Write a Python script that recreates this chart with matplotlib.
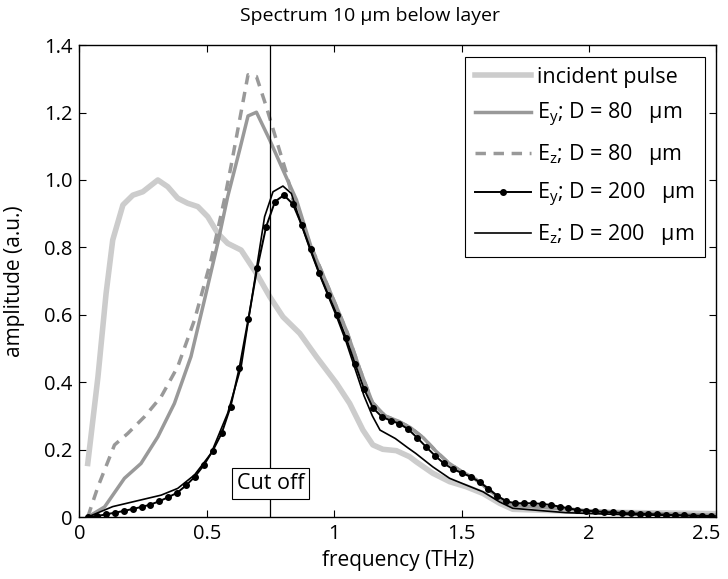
import numpy as np
import matplotlib
matplotlib.use('Agg')
import matplotlib.pyplot as plt
from matplotlib.transforms import ScaledTranslation

plt.rcParams['font.family'] = ['Open Sans', 'DejaVu Sans']
plt.rcParams['mathtext.fontset'] = 'custom'
plt.rcParams['mathtext.rm'] = 'Open Sans'

# incident pulse
f_inc = [0.033, 0.073, 0.105, 0.131, 0.171, 0.210, 0.249, 0.308, 0.347, 0.386,
         0.425, 0.465, 0.504, 0.543, 0.582, 0.635, 0.695, 0.747, 0.799, 0.865,
         0.930, 1.009, 1.061, 1.113, 1.152, 1.191, 1.244, 1.296, 1.322, 1.387,
         1.453, 1.518, 1.584, 1.649, 1.701, 1.9, 2.1, 2.3, 2.5]
a_inc = [0.159, 0.416, 0.664, 0.822, 0.926, 0.955, 0.965, 1.0, 0.980, 0.946,
         0.931, 0.921, 0.891, 0.842, 0.812, 0.792, 0.723, 0.654, 0.594, 0.545,
         0.476, 0.397, 0.337, 0.258, 0.214, 0.201, 0.197, 0.179, 0.164, 0.130,
         0.105, 0.090, 0.070, 0.041, 0.023, 0.018, 0.014, 0.012, 0.010]

# tail shared by the D = 80 um curves
f_tail = [0.91, 0.95, 1.0, 1.05, 1.1, 1.15, 1.2, 1.25, 1.3, 1.35, 1.4, 1.45,
          1.5, 1.55, 1.6, 1.65, 1.7, 1.8, 1.9, 2.0, 2.2, 2.5]
a_tail = [0.80, 0.73, 0.64, 0.55, 0.44, 0.34, 0.30, 0.285, 0.265, 0.235, 0.195,
          0.16, 0.135, 0.115, 0.085, 0.055, 0.035, 0.03, 0.025, 0.018, 0.012, 0.005]

# Ey, D = 80 um
f_ey80 = [0.033, 0.099, 0.177, 0.242, 0.308, 0.373, 0.438, 0.491, 0.543, 0.582,
          0.629, 0.662, 0.695, 0.747, 0.799, 0.852] + f_tail
a_ey80 = [0.0, 0.03, 0.115, 0.159, 0.238, 0.337, 0.476, 0.644, 0.812, 0.950,
          1.089, 1.190, 1.201, 1.119, 1.030, 0.941] + a_tail

# Ez, D = 80 um
f_ez80 = [0.033, 0.073, 0.138, 0.190, 0.256, 0.321, 0.386, 0.452, 0.517, 0.569,
          0.595, 0.662, 0.695, 0.734, 0.773, 0.813, 0.838, 0.878] + f_tail[1:]
a_ez80 = [0.0, 0.09, 0.214, 0.248, 0.298, 0.357, 0.446, 0.585, 0.763, 0.941,
          1.04, 1.312, 1.307, 1.217, 1.119, 1.02, 0.941, 0.861] + a_tail[1:]

# Ey, D = 200 um (with markers, one per frequency bin)
df = 0.0349
a_ey200 = [0.000, 0.003, 0.008, 0.013, 0.018, 0.024, 0.030, 0.037, 0.047, 0.059,
           0.072, 0.094, 0.120, 0.154, 0.197, 0.248, 0.327, 0.443, 0.587, 0.738,
           0.861, 0.936, 0.955, 0.929, 0.867, 0.794, 0.723, 0.659, 0.598, 0.531,
           0.455, 0.381, 0.324, 0.298, 0.286, 0.277, 0.260, 0.235, 0.208, 0.182,
           0.159, 0.142, 0.131, 0.120, 0.104, 0.084, 0.063, 0.047, 0.041, 0.041,
           0.041, 0.039, 0.036, 0.031, 0.026, 0.021, 0.019, 0.017, 0.015, 0.014,
           0.012, 0.011, 0.010, 0.009, 0.008, 0.007, 0.006, 0.005, 0.004, 0.004,
           0.003]
f_ey200 = df * np.arange(1, len(a_ey200) + 1)

# Ez, D = 200 um
f_ez200 = [0.033, 0.131, 0.321, 0.386, 0.452, 0.517, 0.582, 0.635, 0.727, 0.760,
           0.799, 0.832, 0.87, 0.907, 0.942, 0.977, 1.012, 1.047, 1.082, 1.117,
           1.15, 1.18, 1.24, 1.29, 1.32, 1.387, 1.453, 1.518, 1.584, 1.649,
           1.701, 1.78, 1.91, 2.1, 2.3, 2.5]
a_ez200 = [0.0, 0.031, 0.065, 0.085, 0.125, 0.189, 0.308, 0.446, 0.891, 0.965,
           0.982, 0.960, 0.87, 0.79, 0.72, 0.655, 0.59, 0.52, 0.44, 0.36,
           0.30, 0.258, 0.233, 0.205, 0.189, 0.149, 0.115, 0.095, 0.075, 0.045,
           0.026, 0.021, 0.013, 0.008, 0.005, 0.003]

cutoff = 0.75

fig = plt.figure(figsize=(7.28, 5.79), dpi=100)
ax = fig.add_axes([0.109, 0.107, 0.875, 0.815])

ax.plot(f_inc, a_inc, color='#cccccc', lw=4, label='incident pulse')
ax.plot(f_ey80, a_ey80, color='#999999', lw=2.5,
        label=r'E$_\mathrm{y}$; D = 80   μm')
ax.plot(f_ez80, a_ez80, color='#999999', lw=2.5, ls=(0, (3, 2.2)),
        label=r'E$_\mathrm{z}$; D = 80   μm')
ax.plot(f_ey200, a_ey200, color='black', lw=1.4, marker='o', ms=4,
        label=r'E$_\mathrm{y}$; D = 200   μm')
ax.plot(f_ez200, a_ez200, color='black', lw=1.2,
        label=r'E$_\mathrm{z}$; D = 200   μm')
ax.axvline(cutoff, color='black', lw=0.9)

ax.text(cutoff, 0.10, 'Cut off', ha='center', va='center', fontsize=15.5,
        bbox=dict(boxstyle='square,pad=0.22', fc='white', ec='black', lw=0.8))

ax.set_xlim(0, 2.5)
ax.set_ylim(0, 1.4)
ax.set_xticks([0, 0.5, 1, 1.5, 2, 2.5])
ax.set_xticklabels(['0', '0.5', '1', '1.5', '2', '2.5'])
ax.set_yticks([0, 0.2, 0.4, 0.6, 0.8, 1.0, 1.2, 1.4])
ax.set_yticklabels(['0', '0.2', '0.4', '0.6', '0.8', '1.0', '1.2', '1.4'])
ax.tick_params(direction='in', top=True, right=True, length=5, labelsize=14.5,
               width=0.8, pad=5)
for s in ax.spines.values():
    s.set_linewidth(1.0)
# keep the last x label inside the figure
last = ax.get_xticklabels()[-1]
last.set_transform(last.get_transform()
                   + ScaledTranslation(-7 / 72, 0, fig.dpi_scale_trans))

ax.set_xlabel('frequency (THz)', fontsize=15)
ax.set_ylabel('amplitude (a.u.)', fontsize=15)
ax.xaxis.set_label_coords(0.5, -0.07)
ax.yaxis.set_label_coords(-0.086, 0.5)
fig.text(370 / 728, 1 - 16 / 579, 'Spectrum 10 μm below layer', fontsize=14,
         ha='center', va='center')

leg = ax.legend(loc='upper right', fontsize=15.5, fancybox=False,
                edgecolor='black', framealpha=1, handlelength=2.6,
                borderaxespad=0.55, labelspacing=0.62, handletextpad=0.3,
                borderpad=0.45)
leg.get_frame().set_linewidth(0.8)

fig.savefig('out.png', dpi=100)
